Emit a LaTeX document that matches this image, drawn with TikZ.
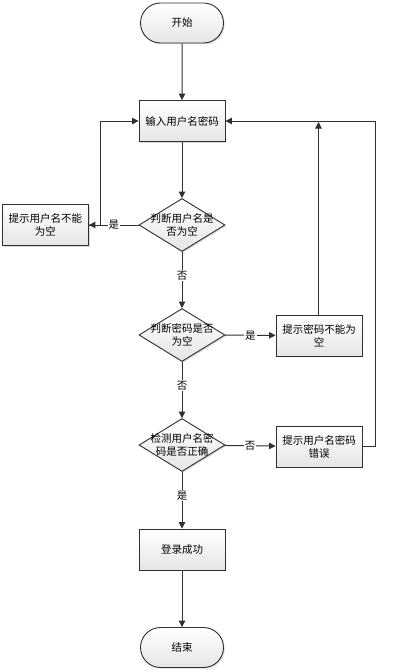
\documentclass[tikz,border=0pt]{standalone}
\usepackage{fontspec}
\setmainfont{Noto Sans CJK SC}
\usetikzlibrary{shapes.geometric,shapes.misc,arrows.meta,shadows}
\definecolor{ln}{HTML}{303030}
\tikzset{
  txt/.style={font=\fontsize{10.5}{13}\selectfont, align=center},
  base/.style={draw=ln, line width=0.9pt, top color=white, bottom color=black!10,
    txt, inner sep=1pt,
    drop shadow={shadow xshift=1.2pt, shadow yshift=-1.2pt, fill=black!25, opacity=0.6}},
  term/.style={base, rounded rectangle, minimum width=85pt, minimum height=40pt},
  proc/.style={base, rectangle, minimum width=86pt, minimum height=41pt, text width=82pt},
  dec/.style={base, diamond, minimum width=86pt, minimum height=53pt, aspect=1.62, inner sep=0pt},
  conn/.style={draw=ln, line width=1pt, -{Triangle[length=6.5pt,width=6.5pt]}},
  lbl/.style={fill=white, font=\fontsize{10.5}{12}\selectfont, inner sep=1pt}
}
\begin{document}
\begin{tikzpicture}[x=1pt,y=-1pt]
\useasboundingbox (0,0) rectangle (415,672);
\node[term] (start) at (182,23) {开始};
\node[proc] (input) at (182,121) {输入用户名密码};
\node[dec, label={[txt]center:判断用户名是\\否为空}] (d1) at (182,225) {};
\node[proc] (m1) at (45.5,225) {提示用户名不能\\为空};
\node[dec, label={[txt]center:判断密码是否\\为空}] (d2) at (182,335) {};
\node[proc] (m2) at (319,335.5) {提示密码不能为\\空};
\node[dec, label={[txt]center:检测用户名密\\码是否正确}] (d3) at (182,445) {};
\node[proc] (m3) at (319,446.5) {提示用户名密码\\错误};
\node[proc] (ok) at (182,549.5) {登录成功};
\node[term] (end) at (182,647.5) {结束};

\coordinate (top2) at (318.5,122);
\coordinate (rt) at (375,121);

\draw[conn] (start) -- (input);
\draw[conn] (input) -- (d1);
\draw[conn] (d1) -- node[lbl]{是} (m1);
\draw[conn] (m1.east) -- ++(12,0) |- (input.west);
\draw[conn] (d1) -- node[lbl, pos=0.42]{否} (d2);
\draw[conn] (d2) -- node[lbl]{是} (m2);
\draw[conn] (m2.north -| top2) -- (top2);
\draw[conn] (d2) -- node[lbl, pos=0.42]{否} (d3);
\draw[conn] (d3) -- node[lbl]{否} (m3);
\draw[conn] (m3.east) -| (rt) -- (input.east);
\draw[conn] (d3) -- node[lbl, pos=0.42]{是} (ok);
\draw[conn] (ok) -- (end);
\end{tikzpicture}
\end{document}
